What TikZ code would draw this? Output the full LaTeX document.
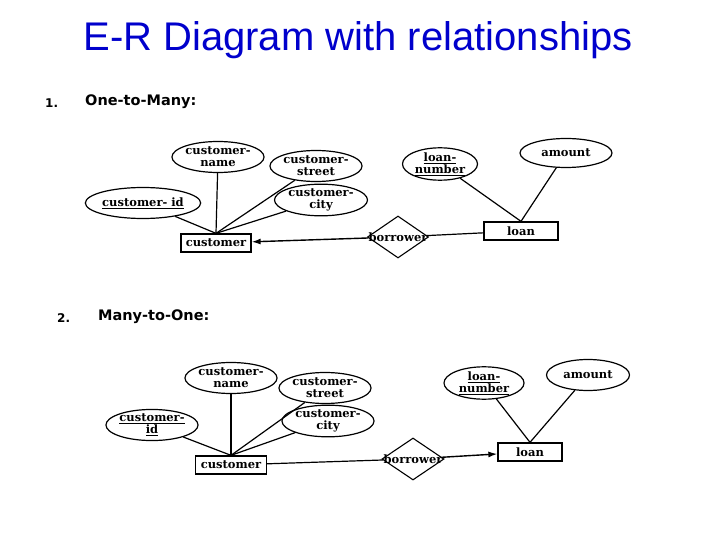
\documentclass[tikz,border=0pt]{standalone}
\usepackage{fontspec}
\setmainfont{DejaVu Serif}
\setsansfont{Liberation Sans}
\newfontfamily\headfont{DejaVu Sans}
\usepackage{xcolor}
\usepackage{tikz}
\usetikzlibrary{shapes.geometric,arrows.meta}
\definecolor{titleblue}{RGB}{0,0,204}

\begin{document}
\begin{tikzpicture}[
        x=1pt, y=-1pt,
        % Attributes, entities and relationships share one text face.
        attr/.style={ellipse, draw, line width=1.2pt, inner sep=0pt,
            minimum width=#1, minimum height=31pt,
            align=center, font=\bfseries\fontsize{11.5}{12}\selectfont},
        attr/.default=90pt,
        entity/.style={rectangle, draw, line width=1.3pt, inner sep=0pt,
            minimum width=#1, minimum height=18pt,
            font=\bfseries\fontsize{11.5}{12}\selectfont},
        rel/.style={diamond, draw, line width=1.1pt, inner sep=0pt,
            minimum width=61pt, minimum height=42pt,
            font=\bfseries\fontsize{11.5}{12}\selectfont},
        link/.style={line width=1.2pt},
        card/.style={-{Latex[length=9pt,width=6pt]}, line width=1.4pt},
        heading/.style={anchor=base west, inner sep=0pt,
            font=\headfont\bfseries\fontsize{14.5}{14.5}\selectfont}
    ]
        \useasboundingbox (0,0) rectangle (720,540);

        \node[anchor=base, text=titleblue, font=\sffamily\fontsize{40}{40}\selectfont]
            (title) at (358,51) {E-R Diagram with relationships};

        % One-to-Many
        \node[heading, font=\headfont\bfseries\fontsize{12}{12}\selectfont] (num1) at (45,108) {1.};
        \node[heading] (head1) at (85,106) {One-to-Many:};

        \node[attr=90pt] (cname1) at (218,157) {customer-\\name};
        \node[attr=92pt] (cstreet1) at (316,166) {customer-\\street};
        \node[attr=93pt] (ccity1) at (321,200) {customer-\\city};
        \node[attr=93pt] (cid1) at (143,203) {\underline{customer- id}};
        \node[entity=70pt] (cust1) at (216,243) {customer};
        \node[rel] (bor1) at (398,237) {\makebox[0pt]{borrower}};
        \node[entity=74pt] (loan1) at (521,231) {loan};
        \node[attr=75pt] (lnum1) at (440,164) {\underline{loan-}\\\underline{number}};
        \node[attr=92pt, minimum height=29pt] (amt1) at (566,153) {amount};

        % Connections
        \draw[link] (cname1) -- (cust1.north);
        \draw[link] (cstreet1) -- (cust1.north);
        \draw[link] (ccity1) -- (cust1.north);
        \draw[link] (cid1) -- (cust1.north);
        \draw[card] (bor1) -- (cust1);
        \draw[link] (bor1) -- (loan1);
        \draw[link] (lnum1) -- (loan1.north);
        \draw[link] (amt1) -- (loan1.north);

        % Many-to-One
        \node[heading, font=\headfont\bfseries\fontsize{12}{12}\selectfont] (num2) at (57,322) {2.};
        \node[heading] (head2) at (98,320) {Many-to-One:};

        \node[attr=82pt] (cname2) at (231,378) {customer-\\name};
        \node[attr=81pt] (cstreet2) at (325,388) {customer-\\street};
        \node[attr=81pt] (ccity2) at (328,421) {customer-\\city};
        \node[attr=83pt] (cid2) at (152,425) {\underline{customer-}\\\underline{id}};
        \node[entity=71pt] (cust2) at (231,465) {customer};
        \node[rel, minimum width=62pt] (bor2) at (413,459) {\makebox[0pt]{borrower}};
        \node[entity=64pt] (loan2) at (530,452) {loan};
        \node[attr=80pt] (lnum2) at (484,383) {\underline{loan-}\\\underline{number}};
        \node[attr=83pt] (amt2) at (588,375) {amount};

        % Connections
        \draw[link] (cname2) -- (cust2.north);
        \draw[link] (cstreet2) -- (cust2.north);
        \draw[link] (ccity2) -- (cust2.north);
        \draw[link] (cid2) -- (cust2.north);
        \draw[link] (cust2) -- (bor2);
        \draw[card] (bor2) -- (loan2);
        \draw[link] (lnum2) -- (loan2.north);
        \draw[link] (amt2) -- (loan2.north);
    \end{tikzpicture}
\end{document}
